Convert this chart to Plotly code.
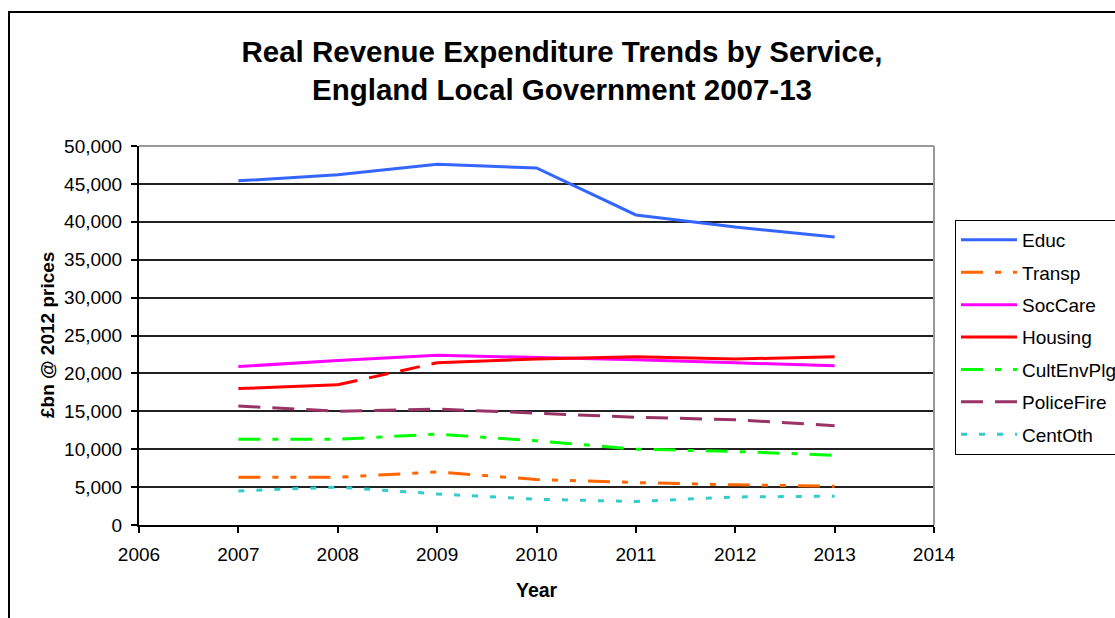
import plotly.graph_objects as go

# Real revenue expenditure by service, £bn at 2012 prices
years = [2007, 2008, 2009, 2010, 2011, 2012, 2013]
educ = [45400, 46200, 47600, 47100, 40900, 39300, 38000]
transp = [6300, 6300, 7000, 6000, 5600, 5300, 5100]
soccare = [20900, 21700, 22400, 22100, 21800, 21400, 21000]
housing = [18000, 18500, 21400, 21900, 22200, 21900, 22200]
cultenvplg = [11300, 11300, 12000, 11100, 10000, 9700, 9200]
policefire = [15700, 15000, 15300, 14700, 14200, 13900, 13100]
centoth = [4500, 5000, 4100, 3400, 3100, 3700, 3800]

FONT = "Liberation Sans, Arial, sans-serif"

fig = go.Figure()


def add_series(name, x, y, color, dash, show=True):
    fig.add_trace(go.Scatter(
        x=x, y=y, name=name, mode="lines", legendgroup=name,
        showlegend=show,
        line=dict(color=color, width=3, dash=dash),
        hoverinfo="x+y+name",
    ))


add_series("Educ", years, educ, "#3366FF", "solid")
add_series("Transp", years, transp, "#FF6600", "22px,12px,6px,12px,6px,12px")
add_series("SocCare", years, soccare, "#FF00FF", "solid")
# Housing: solid, with a dashed break between 2008 and 2009
add_series("Housing", years[:2], housing[:2], "#FF0000", "solid")
add_series("Housing", years[1:3], housing[1:3], "#FF0000", "20px,12px", show=False)
add_series("Housing", years[2:], housing[2:], "#FF0000", "solid", show=False)
add_series("CultEnvPlg", years, cultenvplg, "#00FF00", "22px,12px,6px,12px")
add_series("PoliceFire", years, policefire, "#993366", "22px,12px")
add_series("CentOth", years, centoth, "#33CCCC", "6px,12px")

W, H = 1115, 618
L, R, T, B = 139, 934, 146, 525
pw, ph = R - L, B - T


def px(x):
    return (x - L) / pw


def py(y):
    return (B - y) / ph


fig.update_layout(
    width=W, height=H,
    margin=dict(l=L, r=W - R, t=T, b=H - B, autoexpand=False),
    paper_bgcolor="white", plot_bgcolor="white",
    font=dict(family=FONT, color="black", size=19),
    title=dict(
        text="<b>Real Revenue Expenditure Trends by Service,<br>England Local Government 2007-13</b>",
        x=px(562), xref="paper", xanchor="center",
        y=1 - 62 / H, yref="container", yanchor="middle",
        font=dict(size=29.5, family=FONT, color="black"),
    ),
    xaxis=dict(
        range=[2006, 2014], dtick=1, tick0=2006, tickformat="d",
        showgrid=False, zeroline=False,
        showline=True, linecolor="black", linewidth=2,
        ticks="outside", ticklen=6, tickwidth=2, tickcolor="black",
        tickfont=dict(size=19), ticklabelstandoff=5,
    ),
    yaxis=dict(
        range=[0, 50000], dtick=5000, tick0=0, tickformat=",",
        showgrid=True, gridcolor="#222222", gridwidth=2, zeroline=False,
        showline=True, linecolor="black", linewidth=2,
        ticks="outside", ticklen=6, tickwidth=2, tickcolor="black",
        tickfont=dict(size=19), ticklabelstandoff=5,
    ),
    legend=dict(
        x=px(955), y=py(220), xanchor="left", yanchor="top",
        xref="paper", yref="paper",
        bordercolor="black", borderwidth=1, bgcolor="white",
        font=dict(size=19, family=FONT),
        tracegroupgap=4.7, itemwidth=56,
    ),
    showlegend=True,
)

fig.add_annotation(
    text="<b>£bn @ 2012 prices</b>", textangle=-90,
    x=px(47), y=py(335), xref="paper", yref="paper",
    xanchor="center", yanchor="middle", showarrow=False,
    font=dict(size=19, family=FONT),
)
fig.add_annotation(
    text="<b>Year</b>",
    x=px(537), y=py(590), xref="paper", yref="paper",
    xanchor="center", yanchor="middle", showarrow=False,
    font=dict(size=19.5, family=FONT),
)

# Plot area frame on the top and right edges
fig.add_shape(type="line", xref="paper", yref="paper", x0=0, x1=1, y0=1, y1=1,
              line=dict(color="#999999", width=2), layer="above")
fig.add_shape(type="line", xref="paper", yref="paper", x0=1, x1=1, y0=0, y1=1,
              line=dict(color="#999999", width=2), layer="above")
# Outer chart frame
fig.add_shape(type="rect", xref="paper", yref="paper",
              x0=px(9), x1=px(1130), y0=py(640), y1=py(12),
              line=dict(color="black", width=2), layer="below")

fig.write_html("out.html")
